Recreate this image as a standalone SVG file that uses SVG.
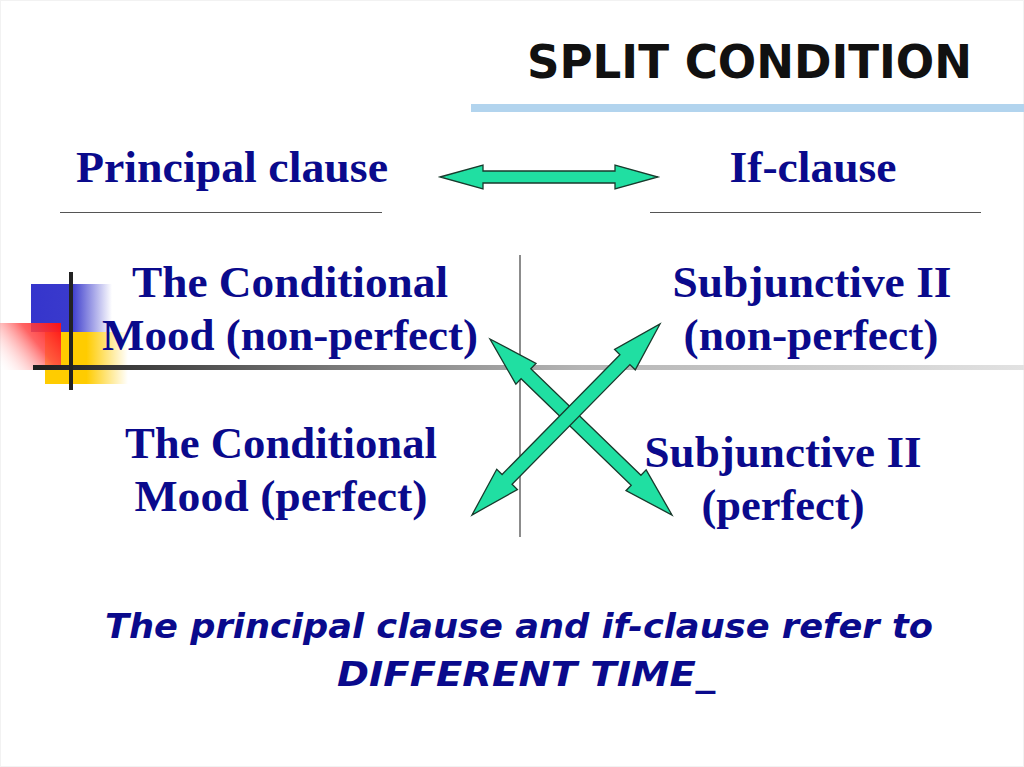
<svg xmlns="http://www.w3.org/2000/svg" width="1024" height="767" viewBox="0 0 1024 767">
<defs>
<style>
.serif{font-family:"Liberation Serif","Times New Roman",serif;font-weight:bold;font-size:45px;fill:#0a0a8c;text-anchor:middle}
.title{font-family:"DejaVu Sans","Liberation Sans",sans-serif;font-weight:bold;font-size:47px;fill:#111}
.note{font-family:"DejaVu Sans","Liberation Sans",sans-serif;font-weight:bold;font-style:italic;font-size:33px;fill:#0a0a8c}
.arrow{fill:#20dfa2;stroke:#183a2c;stroke-width:1.3;stroke-linejoin:miter}
.rule{stroke:#555;stroke-width:1.2}
</style>
<linearGradient id="gBlue" x1="31" y1="0" x2="112" y2="0" gradientUnits="userSpaceOnUse">
<stop offset="0" stop-color="#3535cc"/><stop offset="0.5" stop-color="#3a3acc"/><stop offset="1" stop-color="#3a3acc" stop-opacity="0"/>
</linearGradient>
<linearGradient id="gYellow" x1="45" y1="0" x2="128" y2="0" gradientUnits="userSpaceOnUse">
<stop offset="0" stop-color="#ffcc00"/><stop offset="0.5" stop-color="#ffcc00"/><stop offset="1" stop-color="#ffcc00" stop-opacity="0"/>
</linearGradient>
<linearGradient id="gRed" x1="61" y1="323" x2="0" y2="372" gradientUnits="userSpaceOnUse">
<stop offset="0" stop-color="#ff1010"/><stop offset="0.4" stop-color="#ff4848" stop-opacity="0.85"/><stop offset="1" stop-color="#ffffff" stop-opacity="0"/>
</linearGradient>
<linearGradient id="gLine" x1="33" y1="0" x2="1024" y2="0" gradientUnits="userSpaceOnUse">
<stop offset="0" stop-color="#1e1e1e"/><stop offset="0.3" stop-color="#777"/><stop offset="0.55" stop-color="#b4b4b4"/><stop offset="1" stop-color="#e2e2e2"/>
</linearGradient>
</defs>
<rect x="0" y="0" width="1024" height="767" fill="#fff"/>
<rect x="0.5" y="0.5" width="1023" height="766" fill="none" stroke="#f2f2f2"/>

<g id="decoration">
<rect x="31" y="284" width="81" height="48" fill="url(#gBlue)"/>
<rect x="45" y="332" width="83" height="52" fill="url(#gYellow)"/>
<rect x="0" y="323" width="61" height="47" fill="url(#gRed)"/>
<rect x="33" y="365" width="991" height="5" fill="url(#gLine)"/>
<rect x="69" y="272" width="4" height="118" fill="#222"/>
</g>

<g id="title">
<text class="title" x="527" y="78" textLength="445" lengthAdjust="spacingAndGlyphs">SPLIT CONDITION</text>
<rect x="471" y="104" width="553" height="8" fill="#b2d4ee"/>
</g>

<g id="principal-clause">
<text class="serif" x="232" y="182" textLength="312" lengthAdjust="spacingAndGlyphs">Principal clause</text>
<line class="rule" x1="60" y1="212.5" x2="382" y2="212.5"/>
</g>
<g id="if-clause">
<text class="serif" x="813" y="182" textLength="167" lengthAdjust="spacingAndGlyphs">If-clause</text>
<line class="rule" x1="650" y1="212.5" x2="981" y2="212.5"/>
</g>

<g id="divider">
<line x1="520" y1="255" x2="520" y2="537" stroke="#666" stroke-width="1.5"/>
</g>

<g id="cond-nonperfect">
<text class="serif" x="290" y="297" textLength="316" lengthAdjust="spacingAndGlyphs">The Conditional</text>
<text class="serif" x="290" y="350" textLength="376" lengthAdjust="spacingAndGlyphs">Mood (non-perfect)</text>
</g>
<g id="subj-nonperfect">
<text class="serif" x="812" y="297" textLength="279" lengthAdjust="spacingAndGlyphs">Subjunctive II</text>
<text class="serif" x="811" y="350" textLength="255" lengthAdjust="spacingAndGlyphs">(non-perfect)</text>
</g>
<g id="cond-perfect">
<text class="serif" x="281" y="458" textLength="312" lengthAdjust="spacingAndGlyphs">The Conditional</text>
<text class="serif" x="281" y="511" textLength="293" lengthAdjust="spacingAndGlyphs">Mood (perfect)</text>
</g>
<g id="subj-perfect">
<text class="serif" x="783" y="467" textLength="277" lengthAdjust="spacingAndGlyphs">Subjunctive II</text>
<text class="serif" x="783" y="520" textLength="163" lengthAdjust="spacingAndGlyphs">(perfect)</text>
</g>

<g id="connectors">
<polygon class="arrow" transform="translate(440,177)" points="0,0 43,-12 43,-6 175,-6 175,-12 218,0 175,12 175,6 43,6 43,12"/>
<polygon class="arrow" transform="translate(490,339) rotate(44.04)" points="0,0 50,-14.5 50,-7 203.2,-7 203.2,-14.5 253.2,0 203.2,14.5 203.2,7 50,7 50,14.5"/>
<polygon class="arrow" transform="translate(472,515) rotate(-45.45)" points="0,0 50,-14.5 50,-7 218,-7 218,-14.5 268,0 218,14.5 218,7 50,7 50,14.5"/>
</g>

<g id="note">
<text class="note" x="105" y="638" textLength="828" lengthAdjust="spacingAndGlyphs">The principal clause and if-clause refer to</text>
<text class="note" x="337" y="686" textLength="378" lengthAdjust="spacingAndGlyphs">DIFFERENT TIME_</text>
</g>
</svg>
